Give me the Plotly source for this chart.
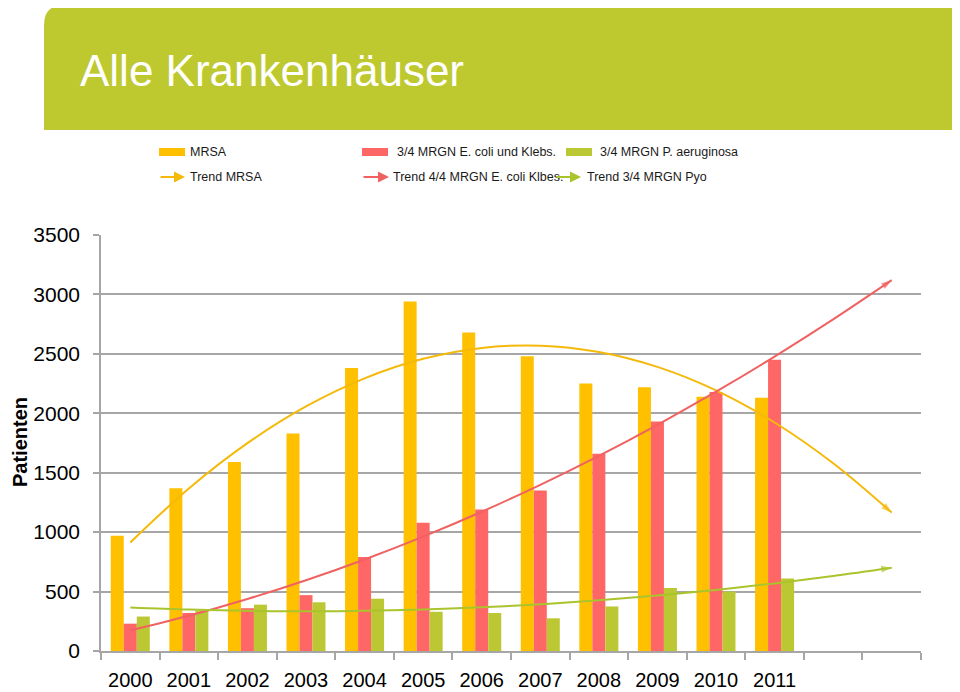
import numpy as np
import plotly.graph_objects as go

# ---------------- data ----------------
years = ['2000', '2001', '2002', '2003', '2004', '2005',
         '2006', '2007', '2008', '2009', '2010', '2011']
mrsa = [970, 1370, 1590, 1830, 2380, 2940, 2680, 2480, 2250, 2220, 2140, 2130]
ecoli_klebs = [230, 320, 360, 470, 790, 1080, 1190, 1350, 1660, 1930, 2180, 2450]
pyo = [290, 340, 390, 410, 440, 330, 320, 275, 375, 530, 500, 610]
y_ticks = [0, 500, 1000, 1500, 2000, 2500, 3000, 3500]
bar_names = ['MRSA', '3/4 MRGN E. coli und Klebs.', '3/4 MRGN P. aeruginosa']
trend_names = ['Trend MRSA', 'Trend 4/4 MRGN E. coli Klbes.', 'Trend 3/4 MRGN Pyo']
title_text = 'Alle Krankenhäuser'
y_title = 'Patienten'
forecast_periods = 2          # trend lines extend 2 periods forward
trend_order = 2               # polynomial trend order

# ---------------- style ----------------
C_Y, C_R, C_G = '#FFC000', '#FF6666', '#BCC833'
T_Y, T_R, T_G = '#F5B90A', '#F06262', '#A9C42C'
GRID = '#A6A6A6'
NARROW = 'Liberation Sans Narrow, Arial Narrow, Liberation Sans, Arial, sans-serif'
SANS = 'Liberation Sans, Arial, sans-serif'

OFF = 8                            # page body margin of the browser
W, H = 960 - OFF, 692 - OFF
L, R, T, B = 101, 921, 235, 651    # plot area in reference (window) pixels


def px(x):
    return (x - L) / (R - L)


def py(y):
    return (B - y) / (B - T)


xi = np.arange(len(years))
xt = np.arange(len(years) + forecast_periods)

fig = go.Figure()
for vals, name, col in zip([mrsa, ecoli_klebs, pyo], bar_names, [C_Y, C_R, C_G]):
    fig.add_trace(go.Bar(x=xi, y=vals, name=name, marker=dict(color=col, line=dict(width=0))))

for vals, name, col in zip([mrsa, ecoli_klebs, pyo], trend_names, [T_Y, T_R, T_G]):
    coefs = np.polyfit(xi, vals, trend_order)
    yt = np.polyval(coefs, xt)
    sizes = [0] * (len(xt) - 1) + [11]
    fig.add_trace(go.Scatter(
        x=xt, y=yt, name=name, mode='lines+markers',
        line=dict(color=col, width=2, shape='spline'),
        marker=dict(symbol='arrow', size=sizes, angleref='previous', color=col,
                    line=dict(width=0)),
        hoverinfo='skip'))

shapes = []
annotations = []

# header banner with rounded top-left corner
x0, x1 = px(44), px(970)
y0, y1 = py(130), py(5)
rx, ry = 20 / (R - L), 20 / (B - T)
shapes.append(dict(
    type='path', xref='paper', yref='paper', layer='below',
    path=f'M {x0},{y0} L {x0},{y1 - ry} Q {x0},{y1} {x0 + rx},{y1} L {x1},{y1} L {x1},{y0} Z',
    fillcolor='#BEC930', line=dict(width=0)))
annotations.append(dict(
    text=title_text, xref='paper', yref='paper', x=px(78), y=py(70),
    xanchor='left', yanchor='middle', showarrow=False,
    font=dict(family=SANS, size=44, color='white')))

# y axis title
annotations.append(dict(
    text=f'<b>{y_title}</b>', xref='paper', yref='paper', x=px(20), y=py(442),
    xanchor='center', yanchor='middle', showarrow=False, textangle=-90,
    font=dict(family=NARROW, size=20, color='black')))

# custom legend
leg_font = dict(family=NARROW, size=12.5, color='#1a1a1a')
row1, row2 = 152, 177
rect_x = [(159, 185), (362, 388), (566, 592)]
text_x1 = [188, 395, 598]
for (a, b), tx, name, col in zip(rect_x, text_x1, bar_names, [C_Y, C_R, C_G]):
    shapes.append(dict(type='rect', xref='paper', yref='paper',
                       x0=px(a), x1=px(b), y0=py(row1 + 4), y1=py(row1 - 4),
                       fillcolor=col, line=dict(width=0)))
    annotations.append(dict(text=name, xref='paper', yref='paper', x=px(tx), y=py(row1),
                            xanchor='left', yanchor='middle', showarrow=False, font=leg_font))
arrow_x = [(159, 185), (362, 389), (555, 581)]
text_x2 = [188, 391, 585]
for (a, b), tx, name, col in zip(arrow_x, text_x2, trend_names, [T_Y, T_R, T_G]):
    annotations.append(dict(text='', xref='paper', yref='paper', x=px(b), y=py(row2),
                            ax=a - b, ay=0, showarrow=True, arrowhead=2, arrowsize=1.1,
                            arrowwidth=2, arrowcolor=col))
    annotations.append(dict(text=name, xref='paper', yref='paper', x=px(tx), y=py(row2),
                            xanchor='left', yanchor='middle', showarrow=False, font=leg_font))

fig.update_layout(
    width=W, height=H,
    margin=dict(l=L - OFF, r=W - (R - OFF), t=T - OFF, b=H - (B - OFF), pad=0),
    paper_bgcolor='white', plot_bgcolor='white',
    barmode='group', bargap=0.334, bargroupgap=0,
    showlegend=False,
    shapes=shapes, annotations=annotations,
    xaxis=dict(
        range=[-0.5, len(xt) - 0.5], tickvals=list(xi), ticktext=years,
        ticks='', showgrid=False, zeroline=False, automargin=False,
        showline=True, linecolor=GRID, linewidth=1.5,
        tickfont=dict(family=NARROW, size=20, color='black'),
        ticklabelstandoff=10,
        minor=dict(tickmode='array', tickvals=[v - 0.5 for v in range(len(xt) + 1)],
                   ticks='outside', ticklen=7, tickwidth=1.5, tickcolor=GRID, showgrid=False),
    ),
    yaxis=dict(
        range=[0, 3500], tickvals=y_ticks, ticks='outside', ticklen=6, tickwidth=1.5,
        tickcolor=GRID, showgrid=True, gridcolor=GRID, gridwidth=1.5,
        zeroline=False, automargin=False, showline=True, linecolor=GRID, linewidth=1.5,
        tickfont=dict(family=NARROW, size=21, color='black'),
        ticklabelstandoff=9,
    ),
)

fig.write_html('out.html')
